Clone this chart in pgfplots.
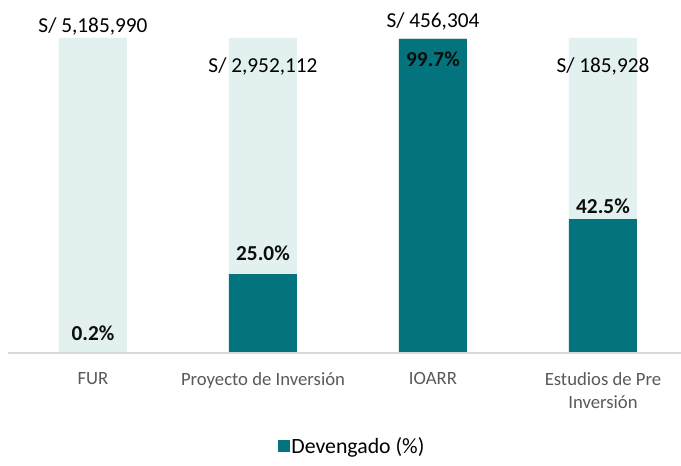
\documentclass[border=0pt]{standalone}
\usepackage{fontspec}
\setmainfont{Carlito}
\usepackage{pgfplots}
\pgfplotsset{compat=1.18}
\definecolor{dteal}{HTML}{03737D}
\definecolor{lteal}{HTML}{E3F0F0}
\definecolor{axgray}{HTML}{D9D9D9}
\definecolor{catgray}{HTML}{595959}
\definecolor{lblack}{HTML}{0D0D0D}
\begin{document}
\begin{tikzpicture}
\useasboundingbox (0,0) rectangle (681bp,466bp);
\begin{axis}[
  at={(8bp,113bp)}, anchor=south west,
  scale only axis, width=673bp, height=315bp,
  xmin=-0.5, xmax=3.459, ymin=0, ymax=100,
  axis on top,
  axis x line*=bottom, axis y line=none,
  x axis line style={draw=axgray, line width=1.3bp, -},
  xtick={0,1,2,3},
  xticklabels={FUR, Proyecto de Inversión, IOARR, {Estudios de Pre\\Inversión}},
  xticklabel style={align=center, font=\fontsize{18.7bp}{23bp}\selectfont, text=catgray, anchor=north, inner sep=0pt, yshift=-19bp},
  major tick length=0pt, ytick=\empty,
  clip=false,
  legend style={at={(0.511,-0.295)}, anchor=center, draw=none, fill=none,
    font=\fontsize{21.8bp}{24bp}\selectfont, inner sep=0pt,
    nodes={inner sep=1.5bp}},
]
\addplot[ybar, bar width=68bp, bar shift=0pt, fill=lteal, draw=none, forget plot]
  coordinates {(0,100) (1,100) (2,100) (3,100)};
\addplot[ybar, bar width=68bp, bar shift=0pt, fill=dteal, draw=none,
  legend image code/.code={\fill[dteal] (0bp,-6bp) rectangle (12bp,6bp);}]
  coordinates {(0,0.2) (1,25.0) (2,99.7) (3,42.5)};
\addlegendentry{Devengado (\%)}
\begin{scope}[every node/.style={anchor=base, text=lblack, inner sep=0pt, font=\bfseries\fontsize{21.3bp}{24bp}\selectfont}]
\node at (axis cs:0,4.1) {0.2\%};
\node at (axis cs:1,29.5) {25.0\%};
\node at (axis cs:2,91.1) {99.7\%};
\node at (axis cs:3,44.4) {42.5\%};
\end{scope}
\begin{scope}[every node/.style={anchor=base, text=black, inner sep=0pt, font=\fontsize{21.3bp}{24bp}\selectfont}]
\node at (axis cs:0,101.6) {S/ 5,185,990};
\node at (axis cs:1,89.2) {S/ 2,952,112};
\node at (axis cs:2,103.2) {S/ 456,304};
\node at (axis cs:3,89.2) {S/ 185,928};
\end{scope}
\end{axis}
\end{tikzpicture}
\end{document}
